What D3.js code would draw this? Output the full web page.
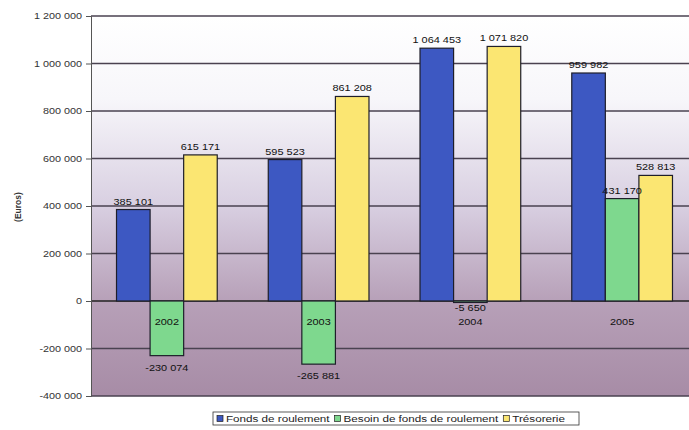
<!DOCTYPE html>
<html><head><meta charset="utf-8">
<script src="https://cdn.jsdelivr.net/npm/d3@7"></script>
<style>body{margin:0;background:#fff;}svg{display:block;font-family:"Liberation Sans",Arial,sans-serif;}</style>
</head><body>
<svg id="c" width="689" height="430"></svg>
<script>
const categories = ["2002", "2003", "2004", "2005"];
const seriesNames = ["Fonds de roulement", "Besoin de fonds de roulement", "Trésorerie"];
const fondsRoulement = [385101, 595523, 1064453, 959982];
const besoinFonds = [-230074, -265881, -5650, 431170];
const tresorerie = [615171, 861208, 1071820, 528813];
const yTicks = [-400000, -200000, 0, 200000, 400000, 600000, 800000, 1000000, 1200000];
const colors = ["#3d58c2", "#7ed88e", "#fbe672"];

(function () {
const series = [fondsRoulement, besoinFonds, tresorerie];
const svg = d3.select("#c");
const pLeft = 91, pRight = 689, pTop = 16, pBottom = 396;

const y = d3.scaleLinear().domain([-400000, 1200000]).range([pBottom, pTop]);
const x = d3.scaleBand().domain(categories).range([91, 698]).paddingInner(0).paddingOuter(0);
const xs = d3.scaleBand().domain(d3.range(3)).range([0, x.bandwidth()]).paddingOuter(0.76).paddingInner(0);

const fmt = v => {
  const s = d3.format(",")(Math.abs(v)).replace(/,/g, " ");
  return (v < 0 ? "-" : "") + s;
};
const stretch = (sel, k) => sel.each(function () {
  const w = this.getComputedTextLength();
  d3.select(this).attr("textLength", w * k).attr("lengthAdjust", "spacingAndGlyphs");
});

const defs = svg.append("defs");
const g = defs.append("linearGradient").attr("id", "bg").attr("x1", 0).attr("y1", 0).attr("x2", 0).attr("y2", 1);
g.append("stop").attr("offset", "0").attr("stop-color", "#ffffff");
g.append("stop").attr("offset", "0.22").attr("stop-color", "#f7f6fa");
g.append("stop").attr("offset", "0.5").attr("stop-color", "#d8cfe1");
g.append("stop").attr("offset", "0.75").attr("stop-color", "#b7a0b8");
g.append("stop").attr("offset", "1").attr("stop-color", "#a78ca6");

svg.append("rect").attr("x", pLeft).attr("y", pTop).attr("width", pRight - pLeft).attr("height", pBottom - pTop).attr("fill", "url(#bg)");

svg.append("g").selectAll("line").data(yTicks).join("line")
  .attr("x1", pLeft).attr("x2", pRight)
  .attr("y1", d => y(d)).attr("y2", d => y(d))
  .attr("stroke", d => d === 0 ? "#222" : "#4a4250")
  .attr("stroke-width", d => d === 0 ? 1.6 : 1.3);

const yAxis = d3.axisLeft(y).tickValues(yTicks).tickSize(5).tickPadding(4).tickFormat(d => fmt(d));
const ya = svg.append("g").attr("transform", `translate(${pLeft},0)`).call(yAxis);
ya.select(".domain").attr("stroke", "#555").attr("stroke-width", 1);
ya.selectAll(".tick line").attr("stroke", "#555");
ya.selectAll("text").attr("font-size", 9).attr("fill", "#333").attr("font-family", "Liberation Sans, Arial, sans-serif")
  .call(stretch, 1.2);

svg.append("text").attr("transform", "translate(21,207) rotate(-90)").attr("text-anchor", "middle")
  .attr("font-size", 8.5).attr("font-weight", "bold").attr("fill", "#333").text("(Euros)");

const groups = svg.append("g").selectAll("g").data(categories).join("g")
  .attr("transform", d => `translate(${x(d)},0)`);
groups.each(function(cat, ci) {
  const gg = d3.select(this);
  series.forEach((s, si) => {
    const v = s[ci];
    gg.append("rect")
      .attr("x", xs(si)).attr("width", xs.bandwidth())
      .attr("y", y(Math.max(0, v))).attr("height", Math.max(1.5, Math.abs(y(v) - y(0))))
      .attr("fill", colors[si]).attr("stroke", "#1e1e2a").attr("stroke-width", 1.2);
  });
});

svg.append("g").selectAll("text").data(categories).join("text")
  .attr("x", d => x(d) + x.bandwidth() / 2).attr("y", y(0) + 24)
  .attr("text-anchor", "middle").attr("font-size", 9.5).attr("fill", "#111").text(d => d)
  .call(stretch, 1.15);

groups.each(function(cat, ci) {
  const gg = d3.select(this);
  series.forEach((s, si) => {
    const v = s[ci];
    const barH = Math.abs(y(v) - y(0));
    gg.append("text")
      .attr("x", xs(si) + xs.bandwidth() / 2)
      .attr("y", v >= 0 ? y(v) - 5 : y(v) + (barH < 5 ? 9 : 15))
      .attr("text-anchor", "middle").attr("font-size", 9.5).attr("fill", "#111").text(fmt(v))
      .call(stretch, 1.15);
  });
});

const lg = svg.append("g");
lg.append("rect").attr("x", 213).attr("y", 412).attr("width", 366).attr("height", 13)
  .attr("fill", "#fff").attr("stroke", "#333").attr("stroke-width", 0.8);
let lx = 217;
seriesNames.forEach((n, i) => {
  lg.append("rect").attr("x", lx).attr("y", 415.5).attr("width", 6).attr("height", 6)
    .attr("fill", colors[i]).attr("stroke", "#222").attr("stroke-width", 0.7);
  const t = lg.append("text").attr("x", lx + 9).attr("y", 422).attr("font-size", 8.5).attr("fill", "#222").text(n);
  const w = t.node().getComputedTextLength() * 1.37;
  t.attr("textLength", w).attr("lengthAdjust", "spacingAndGlyphs");
  lx += 9 + w + 5;
});
})();
</script>
</body></html>
